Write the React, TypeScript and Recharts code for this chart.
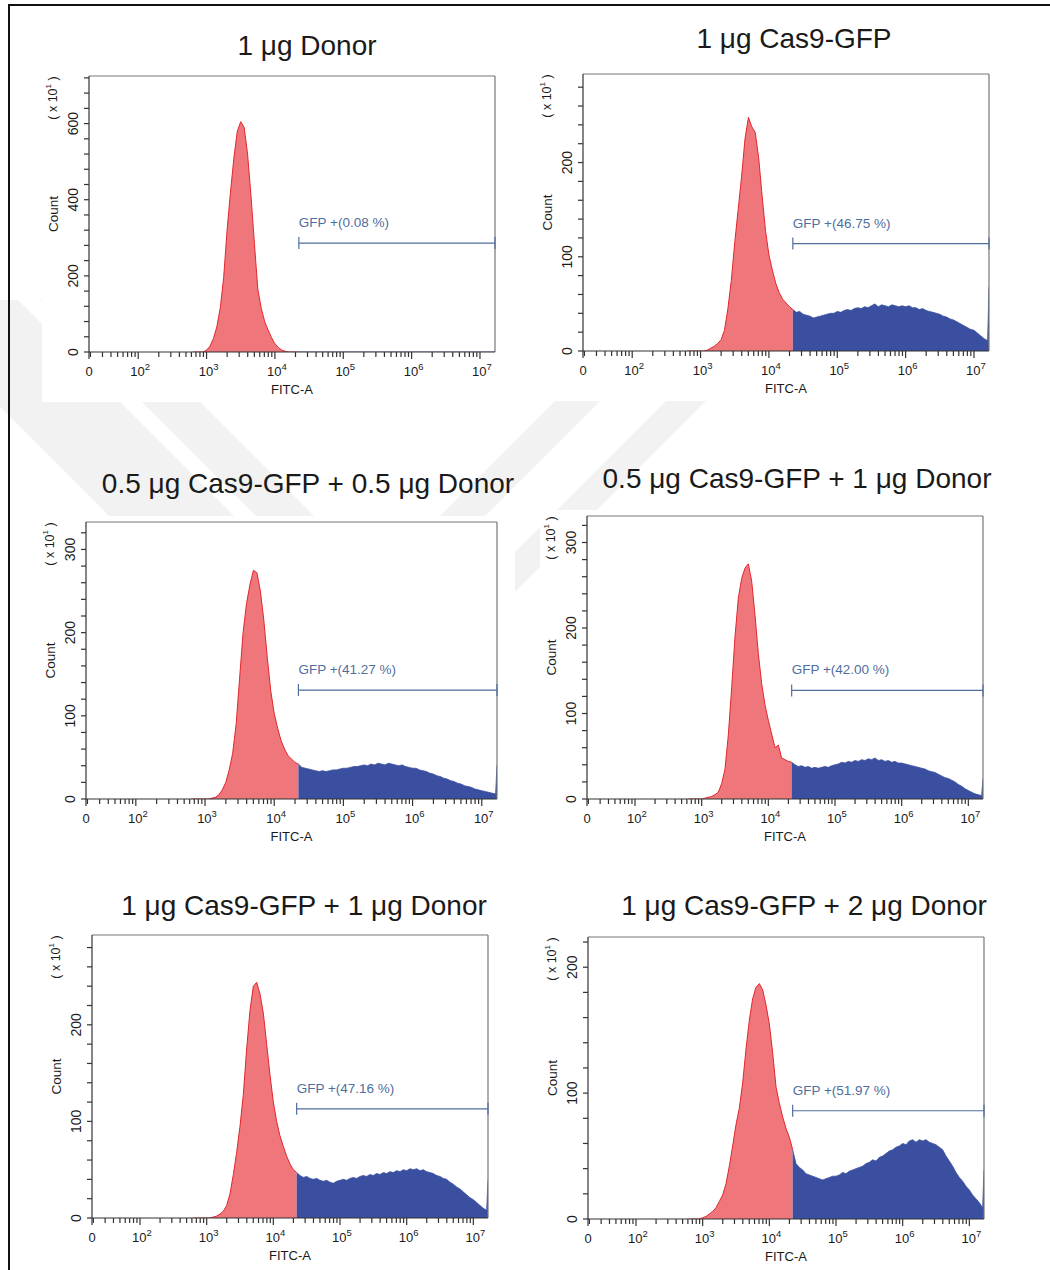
import React from "react";
import { AreaChart, Area, XAxis, YAxis, ReferenceLine } from "recharts";

const FONT = '"Liberation Sans", Arial, Helvetica, sans-serif';

// FITC-A axis is in log10 units; the left end carries the instrument's "0"
const X_MIN = 1.28;
const X_MAX = 7.22;
const GATE_START = 4.35;

const NEG_FILL = "#ef777c";
const NEG_LINE = "#e1262d";
const POS_FILL = "#3a4f9f";
const GATE_COLOR = "#4f6e9e";
const AXIS = "#333";
const TEXT = "#1a1a1a";

// bin centres, log10(FITC-A)
const negBins = Array.from({ length: 32 }, (_, i) => +(2.8 + i * 0.05).toFixed(2));
const posBins = [
  ...Array.from({ length: 58 }, (_, i) => +(GATE_START + i * 0.05).toFixed(2)),
  X_MAX, // overflow bin at the end of the axis
];

const titles = [
  "1 μg Donor",
  "1 μg Cas9-GFP",
  "0.5 μg Cas9-GFP + 0.5 μg Donor",
  "0.5 μg Cas9-GFP + 1 μg Donor",
  "1 μg Cas9-GFP + 1 μg Donor",
  "1 μg Cas9-GFP + 2 μg Donor",
];
const gfpPercent = ["0.08", "46.75", "41.27", "42.00", "47.16", "51.97"];

// counts (x10^1); *Neg = below the gate, *Pos = GFP+ gate
const donorNeg = [0, 0, 0, 0, 5, 15, 35, 66, 115, 195, 320, 420, 510, 580, 605, 590, 520, 410, 285, 165, 115, 80, 58, 38, 22, 12, 5, 2, 0, 0, 0, 0];
const donorPos = [
  0, 0, 0, 0, 0, 0, 0, 0, 0, 0,
  0, 0, 0, 0, 0, 0, 0, 0, 0, 0,
  0, 0, 0, 0, 0, 0, 0, 0, 0, 0,
  0, 0, 0, 0, 0, 0, 0, 0, 0, 0,
  0, 0, 0, 0, 0, 0, 0, 0, 0, 0,
  0, 0, 0, 0, 0, 0, 0, 0, 0,
];

const cas9Neg = [0, 0, 0, 0, 0, 0, 1, 3, 5, 8, 12, 22, 45, 75, 115, 150, 185, 225, 248, 238, 232, 205, 165, 128, 102, 86, 72, 62, 55, 51, 47, 44];
const cas9Pos = [
  44, 41, 42, 39, 38, 37, 35, 36, 37, 38,
  39, 40, 40, 42, 41, 43, 44, 43, 45, 46,
  45, 47, 46, 48, 50, 47, 49, 48, 47, 49,
  48, 47, 48, 47, 48, 46, 46, 44, 45, 43,
  42, 41, 40, 39, 37, 36, 34, 33, 31, 29,
  27, 25, 23, 22, 19, 16, 13, 11, 68,
];

const half05Neg = [0, 0, 0, 0, 0, 0, 1, 2, 5, 11, 20, 35, 55, 90, 145, 200, 235, 258, 275, 272, 250, 215, 170, 130, 103, 85, 70, 60, 52, 48, 44, 42];
const half05Pos = [
  42, 38, 37, 36, 35, 34, 33, 34, 33, 34,
  35, 35, 36, 37, 37, 38, 39, 39, 40, 41,
  40, 42, 41, 43, 42, 41, 43, 42, 41, 40,
  41, 39, 38, 37, 37, 35, 34, 33, 31, 30,
  28, 27, 25, 24, 22, 21, 19, 18, 16, 15,
  14, 12, 11, 10, 9, 8, 7, 6, 41,
];

const half1Neg = [0, 0, 0, 0, 0, 1, 2, 3, 5, 8, 18, 35, 75, 130, 190, 235, 258, 270, 275, 255, 215, 170, 135, 110, 92, 76, 60, 63, 48, 46, 44, 43];
const half1Pos = [
  43, 40, 38, 39, 37, 38, 36, 37, 36, 37,
  38, 37, 39, 40, 41, 43, 42, 44, 43, 45,
  44, 46, 45, 47, 46, 48, 45, 46, 44, 45,
  43, 44, 42, 42, 41, 40, 39, 38, 37, 36,
  35, 33, 32, 31, 29, 27, 25, 24, 22, 20,
  17, 15, 12, 10, 8, 6, 5, 4, 24,
];

const one1Neg = [0, 0, 0, 0, 0, 0, 1, 2, 4, 7, 13, 25, 45, 68, 95, 128, 175, 215, 240, 244, 232, 212, 180, 148, 120, 100, 85, 74, 64, 56, 50, 47];
const one1Pos = [
  47, 44, 42, 43, 41, 40, 41, 39, 38, 39,
  37, 36, 38, 39, 40, 39, 41, 42, 41, 43,
  44, 43, 45, 44, 46, 45, 47, 46, 48, 47,
  49, 48, 50, 49, 51, 50, 51, 49, 50, 48,
  47, 46, 44, 43, 41, 40, 37, 35, 32, 30,
  27, 24, 21, 19, 16, 13, 10, 8, 39,
];

const one2Neg = [0, 0, 0, 0, 1, 2, 4, 6, 9, 14, 19, 28, 42, 58, 75, 88, 108, 135, 158, 175, 184, 187, 182, 170, 155, 132, 105, 92, 81, 72, 65, 55];
const one2Pos = [
  55, 44, 41, 39, 36, 35, 34, 33, 32, 31,
  32, 33, 34, 34, 35, 37, 36, 38, 39, 40,
  41, 42, 44, 45, 47, 46, 49, 50, 52, 54,
  55, 57, 58, 60, 59, 62, 63, 61, 63, 62,
  63, 61, 60, 59, 57, 55, 50, 46, 42, 37,
  33, 30, 26, 23, 19, 16, 13, 9, 39,
];

// y scale of each panel and the height of the GFP+ gate marker
const yMaxes = [725, 294, 333, 331, 293, 224];
const yMajorTicks = [[0, 200, 400, 600], [0, 100, 200], [0, 100, 200, 300], [0, 100, 200, 300], [0, 100, 200], [0, 100, 200]];
const yMinorSteps = [40, 20, 20, 20, 20, 20];
const gateLevels = [286, 114, 131, 127, 113, 86];

const negSeries = [donorNeg, cas9Neg, half05Neg, half1Neg, one1Neg, one2Neg];
const posSeries = [donorPos, cas9Pos, half05Pos, half1Pos, one1Pos, one2Pos];

// layout: plot box [left, top, right, bottom] and title centre / baseline
const plotBoxes = [
  [89, 76, 495, 352],
  [583, 74, 989, 351],
  [86, 522, 497, 799],
  [587, 516, 983, 799],
  [92, 935, 488, 1218],
  [588, 937, 984, 1219],
];
const titlePos = [
  [307, 55],
  [794, 48],
  [308, 493],
  [797, 488],
  [304, 915],
  [804, 915],
];

const xMajors = [2, 3, 4, 5, 6, 7];
const xMinors: number[] = [];
for (let d = 1; d <= 6; d++) {
  for (let k = 2; k <= 9; k++) {
    const v = d + Math.log10(k);
    if (v > X_MIN && v < X_MAX) xMinors.push(v);
  }
}
const xTicks = [X_MIN, ...xMinors, ...xMajors].sort((a, b) => a - b);

function XTick(props: any) {
  const { x, y, payload } = props;
  const v = payload.value as number;
  const isZero = Math.abs(v - X_MIN) < 1e-6;
  const major = isZero || Number.isInteger(v);
  return (
    <g>
      <line x1={x} y1={y} x2={x} y2={y + (major ? 7 : 5)} stroke={AXIS} strokeWidth={1.2} />
      {isZero ? (
        <text x={x} y={y + 24} textAnchor="middle" fontSize={13} fontFamily={FONT} fill={TEXT}>
          0
        </text>
      ) : major ? (
        <text x={x + 2} y={y + 24} textAnchor="middle" fontSize={13} fontFamily={FONT} fill={TEXT}>
          10
          <tspan dy={-6} fontSize={9.5}>
            {v}
          </tspan>
        </text>
      ) : null}
    </g>
  );
}

function makeYTick(majors: number[]) {
  return (props: any) => {
    const { x, y, payload } = props;
    const v = payload.value as number;
    const lx = x - 16;
    return (
      <g>
        <line x1={x - 5} y1={y} x2={x} y2={y} stroke={AXIS} strokeWidth={1.2} />
        {majors.includes(v) ? (
          <text
            x={lx}
            y={y}
            transform={`rotate(-90 ${lx} ${y})`}
            textAnchor="middle"
            dominantBaseline="central"
            fontSize={14}
            fontFamily={FONT}
            fill={TEXT}
          >
            {v}
          </text>
        ) : null}
      </g>
    );
  };
}

function Histogram({ idx }: { idx: number }) {
  const [L, T, R, B] = plotBoxes[idx];
  const yMax = yMaxes[idx];
  const neg = negSeries[idx];
  const pos = posSeries[idx];
  const gateY = gateLevels[idx];
  const pct = gfpPercent[idx];

  const rows = [
    ...negBins.map((x, i) => ({ x, neg: neg[i], pos: i === negBins.length - 1 ? pos[0] : null })),
    ...posBins.slice(1).map((x, i) => ({ x, neg: null, pos: pos[i + 1] })),
  ];

  const yTicks: number[] = [];
  for (let v = 0; v <= yMax; v += yMinorSteps[idx]) yTicks.push(v);
  const capHalf = (6 * yMax) / (B - T);

  return (
    <>
      <div
        style={{
          position: "absolute",
          left: L - 47,
          top: T - 6,
          width: R - L + 65,
          height: B - T + 56,
          background: "#fff",
        }}
      />
      <div style={{ position: "absolute", left: L - 60, top: T - 10 }}>
        <AreaChart
          width={R - L + 70}
          height={B - T + 60}
          data={rows}
          margin={{ top: 10, right: 10, bottom: 10, left: 10 }}
        >
          <XAxis
            dataKey="x"
            type="number"
            domain={[X_MIN, X_MAX]}
            allowDataOverflow
            ticks={xTicks}
            interval={0}
            tickSize={0}
            tickMargin={0}
            tickLine={false}
            axisLine={{ stroke: AXIS, strokeWidth: 1.2 }}
            height={40}
            tick={XTick}
          />
          <YAxis
            type="number"
            domain={[0, yMax]}
            allowDataOverflow
            ticks={yTicks}
            interval={0}
            tickSize={0}
            tickMargin={0}
            tickLine={false}
            axisLine={{ stroke: AXIS, strokeWidth: 1.2 }}
            width={50}
            tick={makeYTick(yMajorTicks[idx])}
          />
          <Area
            dataKey="neg"
            type="linear"
            stroke={NEG_LINE}
            strokeWidth={1}
            fill={NEG_FILL}
            fillOpacity={1}
            isAnimationActive={false}
          />
          <Area
            dataKey="pos"
            type="linear"
            stroke={POS_FILL}
            strokeWidth={0.8}
            fill={POS_FILL}
            fillOpacity={1}
            isAnimationActive={false}
          />
          <ReferenceLine y={yMax} stroke="#777" strokeWidth={1.2} />
          <ReferenceLine x={X_MAX} stroke="#777" strokeWidth={1.2} />
          <ReferenceLine
            segment={[
              { x: GATE_START, y: gateY },
              { x: X_MAX, y: gateY },
            ]}
            stroke={GATE_COLOR}
            strokeWidth={1.2}
            label={(lp: any) => {
              const vb = lp.viewBox || {};
              return (
                <text x={vb.x} y={(vb.y ?? 0) - 16} fill={GATE_COLOR} fontSize={13.5} fontFamily={FONT}>
                  {`GFP +(${pct} %)`}
                </text>
              );
            }}
          />
          <ReferenceLine
            segment={[
              { x: GATE_START, y: gateY - capHalf },
              { x: GATE_START, y: gateY + capHalf },
            ]}
            stroke={GATE_COLOR}
            strokeWidth={1.2}
          />
          <ReferenceLine
            segment={[
              { x: X_MAX, y: gateY - capHalf },
              { x: X_MAX, y: gateY + capHalf },
            ]}
            stroke={GATE_COLOR}
            strokeWidth={1.2}
          />
        </AreaChart>
      </div>
    </>
  );
}

// faint background watermark: two striped arms of a "V"
const leftArmStripes = [
  [-407, -282],
  [-260, -202],
];
const rightArmStripes = [
  [956, 1001],
  [1067, 1107],
];

function Watermark() {
  const polys: string[] = [];
  leftArmStripes.forEach(([c1, c2]) => {
    const a = 300;
    const b = 660;
    polys.push(`${a + c1},${a} ${a + c2},${a} ${b + c2},${b} ${b + c1},${b}`);
  });
  rightArmStripes.forEach(([d1, d2]) => {
    const a = 330;
    const b = 660;
    polys.push(`${d1 - a},${a} ${d2 - a},${a} ${d2 - b},${b} ${d1 - b},${b}`);
  });
  return (
    <svg width={1050} height={1270} style={{ position: "absolute", left: 0, top: 0 }}>
      {polys.map((p, i) => (
        <polygon key={i} points={p} fill="#f2f2f2" />
      ))}
    </svg>
  );
}

function Labels() {
  return (
    <svg
      width={1050}
      height={1270}
      style={{ position: "absolute", left: 0, top: 0, pointerEvents: "none" }}
      fontFamily={FONT}
    >
      {plotBoxes.map(([L, T, R, B], i) => {
        const cx = L - 36;
        const cy = (T + B) / 2;
        const sy = T + 22;
        return (
          <g key={i} fill={TEXT}>
            <text x={titlePos[i][0]} y={titlePos[i][1]} textAnchor="middle" fontSize={28}>
              {titles[i]}
            </text>
            <text
              x={cx}
              y={cy}
              transform={`rotate(-90 ${cx} ${cy})`}
              textAnchor="middle"
              dominantBaseline="central"
              fontSize={13.5}
            >
              Count
            </text>
            <text
              x={cx}
              y={sy}
              transform={`rotate(-90 ${cx} ${sy})`}
              textAnchor="middle"
              dominantBaseline="central"
              fontSize={12.5}
            >
              {"( x 10"}
              <tspan dy={-5} fontSize={8}>
                1
              </tspan>
              <tspan dy={5}>{" )"}</tspan>
            </text>
            <text x={(L + R) / 2} y={B + 42} textAnchor="middle" fontSize={13}>
              FITC-A
            </text>
          </g>
        );
      })}
    </svg>
  );
}

export default function App() {
  return (
    <div
      style={{
        position: "absolute",
        left: 0,
        top: 0,
        width: 1050,
        height: 1270,
        overflow: "hidden",
        background: "#fff",
        fontFamily: FONT,
      }}
    >
      <Watermark />
      <div
        style={{
          position: "absolute",
          left: 8,
          top: 4,
          width: 1042,
          height: 1266,
          borderLeft: "2px solid #111",
          borderTop: "2px solid #111",
        }}
      />
      {plotBoxes.map((_, i) => (
        <Histogram key={i} idx={i} />
      ))}
      <Labels />
    </div>
  );
}
